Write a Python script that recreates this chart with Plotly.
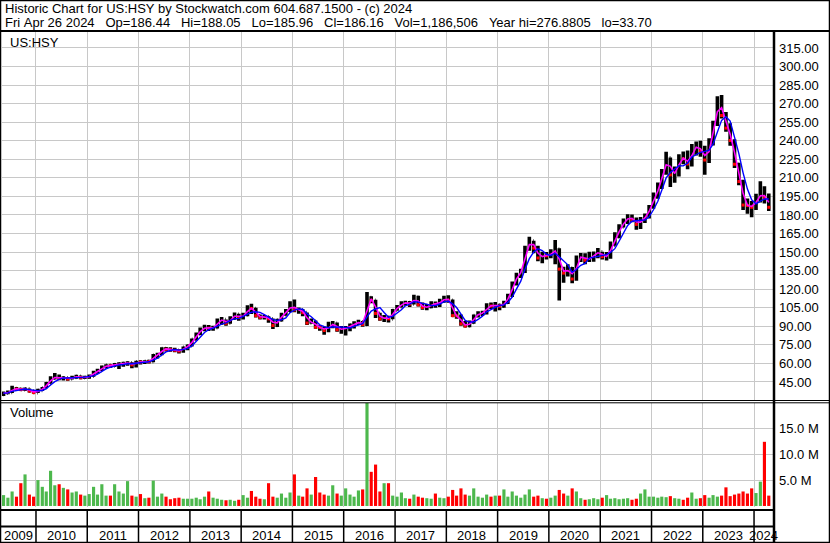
"""
Historic price chart for US:HSY (Stockwatch style) using Plotly
"""

import plotly.graph_objects as go
import pandas as pd

W, H = 830, 543
FONT = "Liberation Sans, Arial, sans-serif"

# monthly bars, May 2009 .. Apr 2024
first_month = "2009-05"
n_months = 180

opens = [
    34.8, 35.8, 36.6, 39.6, 39.2, 38.8, 39.4, 37.6,
    36.4, 38.2, 40.1, 43.6, 48.0, 49.2, 47.8, 48.3, 47.4, 48.6, 49.6, 48.4,
    48.8, 49.6, 52.6, 54.2, 57.0, 58.4, 58.0, 59.0, 59.6, 60.0, 60.4, 58.8,
    61.2, 61.0, 61.6, 61.4, 66.6, 67.2, 72.0, 71.4, 71.0, 70.6, 70.0, 73.0,
    74.2, 79.4, 83.6, 87.6, 89.2, 88.4, 88.8, 94.6, 95.4, 92.4, 96.6, 99.6,
    97.0, 99.2, 104.6, 104.4, 98.6, 97.2, 97.6, 96.0, 90.6, 95.0, 99.4, 102.2,
    107.4, 103.2, 103.4, 101.0, 92.6, 94.0, 89.2, 89.0, 86.6, 90.6, 92.4, 87.2,
    88.0, 88.4, 91.0, 92.2, 93.6, 91.4, 113.2, 111.0, 100.4, 96.0, 97.2, 96.0,
    103.0, 105.6, 108.6, 109.2, 108.0, 113.6, 107.4, 105.2, 105.6, 108.6, 107.6, 110.2,
    112.6, 111.0, 98.6, 98.4, 92.0, 90.2, 93.0, 98.6, 100.2, 101.0, 106.8, 106.4,
    107.2, 106.2, 109.2, 114.6, 124.6, 131.6, 135.0, 153.0, 159.0, 153.2, 145.2, 147.4,
    147.0, 149.4, 152.4, 136.2, 133.0, 137.0, 128.2, 145.2, 146.6, 143.4, 145.2, 148.6,
    150.2, 146.2, 146.8, 155.6, 162.4, 170.2, 175.0, 178.4, 176.2, 172.4, 176.0, 179.2,
    186.4, 195.2, 203.4, 215.0, 226.2, 212.4, 214.6, 226.4, 225.4, 221.2, 234.4, 235.2,
    231.8, 224.4, 238.2, 254.2, 273.0, 260.4, 250.2, 240.2, 221.0, 207.0, 188.0, 187.6,
    186.2, 194.0, 197.0, 194.2,
]

highs = [
    37.2, 38.0, 42.0, 41.0, 40.4, 40.6, 39.6, 38.0,
    39.4, 41.0, 45.0, 49.6, 52.2, 51.0, 49.6, 49.0, 50.0, 50.8, 50.2, 50.0,
    51.0, 54.0, 55.6, 58.2, 59.4, 59.4, 60.4, 61.0, 61.4, 61.8, 61.0, 62.2,
    62.6, 62.6, 63.0, 67.6, 68.6, 73.0, 73.2, 73.0, 72.6, 71.6, 73.6, 75.2,
    80.2, 85.0, 89.0, 91.2, 91.0, 90.4, 96.2, 97.6, 95.4, 98.2, 101.2, 100.2,
    101.0, 107.0, 108.2, 105.0, 99.6, 99.2, 98.2, 96.2, 96.0, 101.0, 104.0, 110.2,
    111.6, 105.2, 104.0, 101.2, 96.2, 94.6, 90.8, 89.6, 93.6, 94.2, 93.0, 90.2,
    90.2, 92.2, 94.0, 95.2, 94.2, 117.8, 114.2, 111.4, 101.0, 99.2, 98.6, 104.0,
    107.2, 110.2, 110.6, 110.4, 115.4, 114.6, 109.2, 108.0, 110.2, 110.0, 112.2, 114.6,
    115.0, 111.6, 102.2, 99.6, 94.2, 94.6, 99.6, 102.2, 102.6, 108.6, 109.2, 109.6,
    108.2, 110.6, 116.2, 126.2, 133.2, 136.6, 155.2, 162.4, 159.2, 155.0, 150.2, 150.0,
    152.2, 159.8, 153.0, 138.2, 140.2, 138.0, 147.2, 149.2, 149.0, 150.2, 150.4, 153.2,
    150.2, 150.0, 158.6, 166.0, 172.4, 177.2, 180.6, 180.4, 178.0, 178.4, 181.2, 188.0,
    198.2, 206.2, 217.2, 231.0, 226.4, 219.2, 229.0, 231.2, 232.2, 237.4, 239.4, 240.0,
    236.0, 242.0, 256.2, 276.0, 276.9, 263.2, 254.2, 241.2, 222.2, 208.4, 193.2, 191.2,
    197.2, 207.2, 203.2, 197.4,
]

lows = [
    33.7, 35.0, 36.0, 38.0, 37.8, 37.6, 36.4, 35.6,
    36.0, 37.6, 40.0, 43.6, 47.0, 46.4, 46.2, 46.0, 47.0, 47.6, 47.2, 47.4,
    47.6, 49.2, 51.6, 53.8, 56.0, 56.2, 57.0, 55.4, 57.2, 58.0, 56.0, 56.6,
    59.2, 59.6, 60.0, 61.0, 64.0, 66.6, 69.6, 69.4, 69.0, 68.0, 68.6, 70.6,
    73.6, 78.6, 83.0, 86.0, 86.2, 86.4, 88.2, 91.2, 90.4, 92.0, 95.2, 94.4,
    95.4, 98.2, 100.0, 97.0, 95.4, 95.4, 92.8, 87.8, 89.4, 93.8, 98.6, 101.6,
    101.4, 100.2, 98.2, 91.0, 92.0, 88.0, 86.4, 83.2, 85.2, 88.4, 85.6, 84.0,
    82.6, 86.0, 88.2, 91.0, 89.6, 90.2, 108.6, 96.6, 94.4, 93.4, 93.0, 95.6,
    102.6, 105.2, 106.6, 105.6, 107.6, 106.0, 103.4, 103.0, 104.6, 105.0, 105.6, 109.0,
    109.0, 97.4, 96.0, 90.4, 89.0, 89.2, 92.0, 97.0, 98.4, 99.6, 104.0, 102.0,
    103.0, 105.0, 108.0, 113.6, 123.0, 129.0, 133.0, 151.0, 149.0, 142.6, 141.0, 144.0,
    145.0, 140.2, 110.8, 125.2, 130.2, 124.8, 126.8, 142.0, 140.2, 142.0, 142.2, 145.0,
    144.0, 143.2, 144.6, 155.0, 161.2, 169.8, 172.6, 174.0, 168.0, 168.6, 173.4, 177.2,
    185.0, 193.0, 201.0, 212.4, 202.6, 206.0, 211.0, 221.0, 217.0, 219.2, 228.0, 227.0,
    212.4, 222.0, 236.2, 252.0, 258.0, 247.2, 236.0, 218.0, 204.0, 184.0, 181.0, 178.2,
    184.0, 190.0, 189.2, 183.2,
]

closes = [
    35.8, 36.6, 39.6, 39.2, 38.8, 39.4, 37.6, 36.4,
    38.2, 40.1, 43.6, 48.0, 49.2, 47.8, 48.3, 47.4, 48.6, 49.6, 48.4, 48.8,
    49.6, 52.6, 54.2, 57.0, 58.4, 58.0, 59.0, 59.6, 60.0, 60.4, 58.8, 61.2,
    61.0, 61.6, 61.4, 66.6, 67.2, 72.0, 71.4, 71.0, 70.6, 70.0, 73.0, 74.2,
    79.4, 83.6, 87.6, 89.2, 88.4, 88.8, 94.6, 95.4, 92.4, 96.6, 99.6, 97.0,
    99.2, 104.6, 104.4, 98.6, 97.2, 97.6, 96.0, 90.6, 95.0, 99.4, 102.2, 107.4,
    103.2, 103.4, 101.0, 92.6, 94.0, 89.2, 89.0, 86.6, 90.6, 92.4, 87.2, 88.0,
    88.4, 91.0, 92.2, 93.6, 91.4, 113.2, 111.0, 100.4, 96.0, 97.2, 96.0, 103.0,
    105.6, 108.6, 109.2, 108.0, 113.6, 107.4, 105.2, 105.6, 108.6, 107.6, 110.2, 112.6,
    111.0, 98.6, 98.4, 92.0, 90.2, 93.0, 98.6, 100.2, 101.0, 106.8, 106.4, 107.2,
    106.2, 109.2, 114.6, 124.6, 131.6, 135.0, 153.0, 159.0, 153.2, 145.2, 147.4, 147.0,
    149.4, 152.4, 136.2, 133.0, 137.0, 128.2, 145.2, 146.6, 143.4, 145.2, 148.6, 150.2,
    146.2, 146.8, 155.6, 162.4, 170.2, 175.0, 178.4, 176.2, 172.4, 176.0, 179.2, 186.4,
    195.2, 203.4, 215.0, 226.2, 212.4, 214.6, 226.4, 225.4, 221.2, 234.4, 235.2, 231.8,
    224.4, 238.2, 254.2, 273.0, 260.4, 250.2, 240.2, 221.0, 207.0, 188.0, 187.6, 186.2,
    194.0, 197.0, 194.2, 186.2,
]

# volume in millions of shares
volumes = [
    2.1, 1.6, 2.8, 1.8, 4.4, 6.1, 2.2, 1.8,
    5.0, 3.7, 2.8, 6.8, 4.0, 4.2, 3.5, 3.2, 2.6, 2.8, 2.2, 2.0,
    2.3, 3.7, 2.2, 4.2, 2.0, 2.0, 4.2, 2.8, 2.4, 4.8, 2.0, 1.8,
    2.3, 1.5, 1.6, 4.9, 1.8, 2.4, 1.8, 1.3, 1.5, 1.6, 1.4, 1.4,
    1.4, 1.6, 1.3, 1.8, 2.8, 1.6, 1.4, 1.2, 1.1, 1.2, 1.0, 1.2,
    2.1, 1.6, 2.9, 1.8, 1.4, 1.3, 4.4, 1.8, 1.6, 2.4, 1.6, 2.6,
    6.1, 2.0, 1.8, 3.4, 2.2, 5.6, 2.6, 2.2, 2.0, 4.0, 2.4, 2.0,
    3.4, 2.2, 1.8, 3.0, 3.2, 21.0, 6.6, 8.0, 2.8, 4.4, 4.4, 2.0,
    1.8, 2.6, 1.5, 1.4, 2.2, 1.8, 1.6, 1.5, 1.4, 2.4, 1.6, 1.5,
    1.8, 3.1, 2.0, 3.4, 2.2, 2.0, 3.4, 1.8, 1.6, 2.2, 1.8, 2.0,
    2.0, 3.2, 1.8, 2.8, 2.0, 1.6, 2.2, 3.2, 1.8, 2.0, 1.5, 1.4,
    1.6, 2.0, 3.1, 2.4, 2.0, 3.4, 2.8, 1.5, 1.2, 1.3, 1.5, 1.3,
    1.6, 2.1, 1.4, 1.5, 1.3, 1.4, 1.5, 1.2, 1.4, 2.4, 3.2, 1.8,
    1.8, 1.6, 1.8, 1.7, 1.9, 1.5, 1.4, 1.2, 1.6, 2.6, 1.4, 1.5,
    2.1, 1.6, 2.1, 1.8, 2.0, 3.6, 1.9, 2.2, 2.4, 2.8, 2.4, 3.4,
    2.5, 4.7, 12.4, 2.0,
]

year_labels = [str(y) for y in range(2009, 2025)]
price_ticks = list(range(45, 316, 15))
volume_ticks = [5, 10, 15]

header_1 = "Historic Chart for US:HSY by Stockwatch.com 604.687.1500 - (c) 2024"
header_2 = ("Fri Apr 26 2024   Op=186.44   Hi=188.05   Lo=185.96   Cl=186.16   "
            "Vol=1,186,506   Year hi=276.8805   lo=33.70").replace(" ", "\u00a0")

x_start, x_end = "2009-05-04", "2024-05-15"

dates = pd.date_range(first_month, periods=n_months, freq="MS") + pd.Timedelta(days=14)
close_s = pd.Series(closes)
ma_short = close_s.rolling(2, min_periods=1).mean()
ma_long = close_s.rolling(4, min_periods=1).mean()
down = [c < o for o, c in zip(opens, closes)]
vol_colors = ["#FF0000" if d else "#4DB84D" for d in down]


def px(x):
    return x / W


def py(y):
    return 1 - y / H


fig = go.Figure()

# price bars in black, red tick on the close of falling months
fig.add_trace(go.Ohlc(
    x=dates, open=opens, high=highs, low=lows, close=closes,
    increasing=dict(line=dict(color="black", width=3.6)),
    decreasing=dict(line=dict(color="black", width=3.6)),
    tickwidth=0.15, showlegend=False, hoverinfo="skip",
))
fig.add_trace(go.Scatter(
    x=[d for d, dn in zip(dates, down) if dn],
    y=[c for c, dn in zip(closes, down) if dn],
    mode="markers",
    marker=dict(symbol="square", size=3, color="#FF0000", line_width=0),
    showlegend=False, hoverinfo="skip",
))
fig.add_trace(go.Scatter(
    x=dates, y=ma_short, mode="lines",
    line=dict(color="#FF00FF", width=1.6), showlegend=False, hoverinfo="skip",
))
fig.add_trace(go.Scatter(
    x=dates, y=ma_long, mode="lines",
    line=dict(color="#0000FF", width=1.4), showlegend=False, hoverinfo="skip",
))
fig.add_trace(go.Bar(
    x=dates, y=volumes, marker=dict(color=vol_colors, line_width=0),
    xaxis="x2", yaxis="y2", showlegend=False, hoverinfo="skip",
))

year_starts = [f"{y}-01-01" for y in range(2010, 2025)]

axis_x = dict(
    range=[x_start, x_end], tickvals=year_starts, showticklabels=False,
    showgrid=True, gridcolor="#C8C8C8", gridwidth=1, ticks="",
    showline=False, zeroline=False, fixedrange=True,
)

fig.update_layout(
    width=W, height=H,
    margin=dict(l=0, r=0, t=0, b=0),
    paper_bgcolor="white", plot_bgcolor="white",
    font=dict(family=FONT, size=13, color="black"),
    bargap=0.2,
    xaxis=dict(axis_x, domain=[px(2), px(773)], anchor="y",
               rangeslider=dict(visible=False)),
    xaxis2=dict(axis_x, domain=[px(2), px(773)], anchor="y2", matches="x"),
    yaxis=dict(
        domain=[py(400), py(32)], range=[30.4, 327.9], side="right",
        tickvals=price_ticks, tickformat=".2f", showgrid=True,
        gridcolor="#C8C8C8", ticks="", ticklabelstandoff=5,
        showline=False, zeroline=False, fixedrange=True,
    ),
    yaxis2=dict(
        domain=[py(507), py(403)], range=[-0.2, 19.9], side="right",
        tickvals=volume_ticks, ticktext=[f"{v:.1f} M" for v in volume_ticks],
        showgrid=True, gridcolor="#C8C8C8", ticks="", ticklabelstandoff=5,
        showline=False, zeroline=False, fixedrange=True,
    ),
)

shapes = []


def hline(y, x0, x1, width):
    shapes.append(dict(type="line", xref="paper", yref="paper",
                       x0=px(x0), x1=px(x1), y0=py(y), y1=py(y),
                       line=dict(color="black", width=width)))


hline(31, 0, W, 2)
hline(400.5, 0, W, 1)
hline(402.8, 0, W, 1)
hline(510, 0, 774, 2)
hline(526.5, 0, 774, 2)

# right axis separator
shapes.append(dict(type="line", xref="paper", yref="paper",
                   x0=px(774), x1=px(774), y0=py(31), y1=0,
                   line=dict(color="black", width=2.5)))

# year separators in the date strip
for ys in year_starts:
    shapes.append(dict(type="line", xref="x", yref="paper",
                       x0=ys, x1=ys, y0=py(510), y1=0,
                       line=dict(color="black", width=1.5)))

# outer frame
shapes.append(dict(type="rect", xref="paper", yref="paper",
                   x0=0, x1=1, y0=0, y1=1,
                   line=dict(color="black", width=2.5)))

fig.update_layout(shapes=shapes)

annotations = [
    dict(text=header_1, x=px(3), y=py(9)),
    dict(text=header_2, x=px(3), y=py(22.5)),
    dict(text="US:HSY", x=px(8), y=py(42)),
    dict(text="Volume", x=px(8), y=py(413)),
]
for a in annotations:
    a.update(xref="paper", yref="paper", xanchor="left", yanchor="middle",
             showarrow=False, font=dict(family=FONT, size=13, color="black"))

# year labels centred on the visible part of each year
lo, hi = pd.Timestamp(x_start), pd.Timestamp(x_end)
for lab in year_labels:
    a0 = max(lo, pd.Timestamp(f"{lab}-01-01"))
    a1 = min(hi, pd.Timestamp(f"{int(lab) + 1}-01-01"))
    mid = a0 + (a1 - a0) / 2
    annotations.append(dict(
        text=lab, x=mid, xref="x", y=py(535), yref="paper",
        xanchor="center", yanchor="middle", showarrow=False,
        font=dict(family=FONT, size=13, color="black"),
    ))

fig.update_layout(annotations=annotations)

# the page should hold only the chart, without the default body margin
fig.write_html("out.html", config={"displayModeBar": False},
               post_script="document.body.style.margin='0';")
